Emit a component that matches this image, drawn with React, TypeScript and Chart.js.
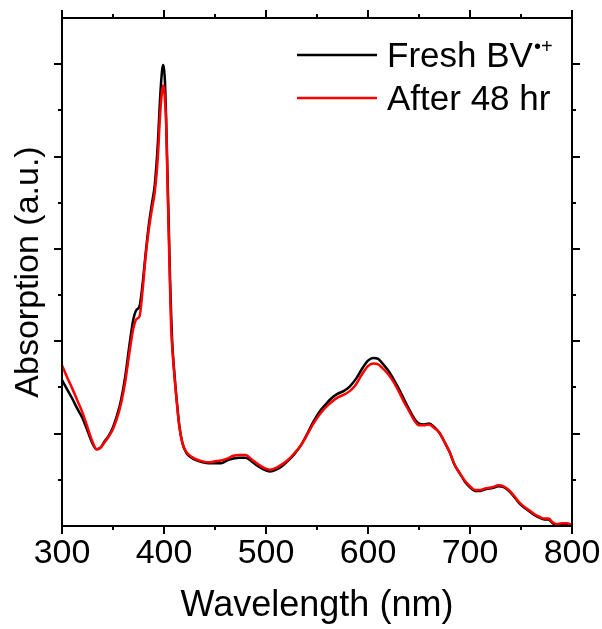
import React, { useEffect, useRef } from "react";
import { Chart, registerables } from "chart.js";

Chart.register(...registerables);

const wavelengths = [
  300, 305, 310, 315, 320, 325, 330, 334, 338, 342, 346, 350, 354, 358, 362, 366, 370, 373, 376, 379,
  382, 385, 388, 391, 394, 396, 398, 399, 400, 401, 402, 403, 404, 405, 406, 407, 408, 410, 412, 415,
  418, 422, 427, 432, 438, 444, 450, 456, 462, 468, 474, 480, 486, 492, 498, 504, 510, 516, 522, 528,
  534, 540, 546, 552, 558, 564, 570, 576, 582, 588, 594, 600, 605, 610, 615, 620, 625, 630, 635, 640,
  645, 650, 655, 660, 665, 670, 675, 680, 685, 690, 695, 700, 705, 710, 716, 722, 728, 733, 738, 743,
  748, 753, 758, 763, 768, 773, 777, 781, 785, 790, 795, 800,
];

const freshBV = [
  1.58, 1.48, 1.38, 1.27, 1.17, 1.03, 0.89, 0.83, 0.85, 0.92, 0.98, 1.07, 1.2, 1.37, 1.62, 1.95, 2.24, 2.34, 2.38, 2.62,
  2.95, 3.25, 3.48, 3.7, 4.15, 4.6, 4.92, 4.99, 4.95, 4.8, 4.45, 4.0, 3.55, 3.1, 2.65, 2.3, 2.0, 1.68, 1.42, 1.09,
  0.9, 0.79, 0.74, 0.71, 0.69, 0.68, 0.68, 0.68, 0.71, 0.73, 0.74, 0.74, 0.7, 0.65, 0.61, 0.59, 0.61, 0.65, 0.71, 0.78,
  0.87, 0.99, 1.12, 1.23, 1.31, 1.38, 1.43, 1.46, 1.51, 1.59, 1.7, 1.79, 1.82, 1.81, 1.75, 1.68, 1.59, 1.49, 1.38, 1.27,
  1.17, 1.11, 1.1, 1.11, 1.07, 1.01, 0.91, 0.8, 0.66, 0.57, 0.48, 0.42, 0.38, 0.38, 0.4, 0.41, 0.43, 0.42, 0.38, 0.32,
  0.25, 0.2, 0.16, 0.12, 0.09, 0.07, 0.07, 0.03, 0.01, 0.01, 0.02, 0.0,
];

const after48hr = [
  1.74, 1.61, 1.49, 1.36, 1.23, 1.07, 0.91, 0.83, 0.85, 0.91, 0.97, 1.05, 1.17, 1.33, 1.56, 1.87, 2.14, 2.24, 2.27, 2.55,
  2.92, 3.2, 3.42, 3.62, 4.0, 4.42, 4.7, 4.77, 4.74, 4.6, 4.4, 3.95, 3.45, 3.0, 2.55, 2.15, 1.95, 1.65, 1.4, 1.08,
  0.9, 0.8, 0.75, 0.72, 0.7, 0.69, 0.7, 0.71, 0.73, 0.76, 0.77, 0.77, 0.72, 0.67, 0.63, 0.61, 0.63, 0.67, 0.72, 0.79,
  0.87, 0.98, 1.1, 1.2, 1.28, 1.34, 1.39, 1.42, 1.46, 1.53, 1.64, 1.73, 1.76, 1.75, 1.7, 1.64, 1.56, 1.46, 1.35, 1.25,
  1.15, 1.09, 1.09, 1.1, 1.06, 1.01, 0.91, 0.8, 0.66, 0.57, 0.49, 0.43, 0.39, 0.39, 0.41, 0.42, 0.44, 0.43, 0.39, 0.33,
  0.26, 0.21, 0.17, 0.13, 0.1, 0.08, 0.08, 0.04, 0.02, 0.03, 0.03, 0.01,
];

const xTicks = [300, 400, 500, 600, 700, 800];
const xMinorTicks = [350, 450, 550, 650, 750];
const yMajorTicks = [1, 2, 3, 4, 5];
const yMinorTicks = [0.5, 1.5, 2.5, 3.5, 4.5];
const seriesNames = ["Fresh BV", "After 48 hr"];
const seriesSuperscript = "\u2022+";
const xTitle = "Wavelength (nm)";
const yTitle = "Absorption (a.u.)";

const FONT = "'Liberation Sans', Arial, sans-serif";

export default function App() {
  const ref = useRef<HTMLCanvasElement>(null);

  useEffect(() => {
    document.body.style.margin = "0";
    const canvas = ref.current;
    if (!canvas) return;

    const framePlugin = {
      id: "frameTicksLegend",
      afterDraw(chart: any) {
        const { ctx, chartArea } = chart;
        const xs = chart.scales.x;
        const ys = chart.scales.y;
        const { left, right, top, bottom } = chartArea;
        ctx.save();
        ctx.strokeStyle = "#000";
        ctx.lineWidth = 2;
        ctx.lineCap = "square";
        ctx.strokeRect(left, top, right - left, bottom - top);
        ctx.lineCap = "butt";
        const major = 8;
        const minor = 4;
        ctx.beginPath();
        const xt = (v: number, len: number) => {
          const px = Math.round(xs.getPixelForValue(v));
          ctx.moveTo(px, bottom);
          ctx.lineTo(px, bottom + len);
          ctx.moveTo(px, top);
          ctx.lineTo(px, top - len);
        };
        const yt = (v: number, len: number) => {
          const py = Math.round(ys.getPixelForValue(v));
          ctx.moveTo(left, py);
          ctx.lineTo(left - len, py);
          ctx.moveTo(right, py);
          ctx.lineTo(right + len, py);
        };
        xTicks.forEach((v) => xt(v, major));
        xMinorTicks.forEach((v) => xt(v, minor));
        yMajorTicks.forEach((v) => yt(v, major));
        yMinorTicks.forEach((v) => yt(v, minor));
        ctx.stroke();

        // legend
        const colors = ["#000000", "#ff0000"];
        const lineX0 = 297;
        const lineX1 = 377;
        const rowsY = [55, 98];
        ctx.lineWidth = 2.5;
        seriesNames.forEach((name, i) => {
          ctx.strokeStyle = colors[i];
          ctx.beginPath();
          ctx.moveTo(lineX0, rowsY[i]);
          ctx.lineTo(lineX1, rowsY[i]);
          ctx.stroke();
          ctx.fillStyle = "#000";
          ctx.font = `35px ${FONT}`;
          ctx.textBaseline = "alphabetic";
          ctx.textAlign = "left";
          ctx.fillText(name, 387, rowsY[i] + 12);
          if (i === 0) {
            const w = ctx.measureText(name).width;
            ctx.font = `20px ${FONT}`;
            ctx.fillText(seriesSuperscript, 387 + w + 1, rowsY[i] - 2);
          }
        });
        ctx.restore();
      },
    };

    const chart = new Chart(canvas, {
      type: "line",
      data: {
        datasets: [
          {
            label: seriesNames[1],
            data: wavelengths.map((x, i) => ({ x, y: after48hr[i] })),
            borderColor: "#ff0000",
            borderWidth: 2.5,
            pointRadius: 0,
            cubicInterpolationMode: "monotone",
            fill: false,
          },
          {
            label: seriesNames[0],
            data: wavelengths.map((x, i) => ({ x, y: freshBV[i] })),
            borderColor: "#000000",
            borderWidth: 2.5,
            pointRadius: 0,
            cubicInterpolationMode: "monotone",
            fill: false,
          },
        ],
      },
      options: {
        responsive: false,
        animation: false,
        layout: { padding: { top: 18, right: 30, left: 0, bottom: 0 } },
        plugins: { legend: { display: false }, tooltip: { enabled: false } },
        scales: {
          x: {
            type: "linear",
            min: 300,
            max: 800,
            afterBuildTicks: (s: any) => {
              s.ticks = xTicks.map((v) => ({ value: v }));
            },
            afterFit: (s: any) => {
              s.height = 103;
              s.paddingLeft = 0;
              s.paddingRight = 0;
            },
            grid: { display: false, drawTicks: false },
            border: { display: false },
            ticks: {
              color: "#000",
              padding: 7,
              maxRotation: 0,
              font: { family: FONT, size: 34 },
            },
            title: {
              display: true,
              text: xTitle,
              color: "#000",
              font: { family: FONT, size: 36 },
              padding: { top: 0, bottom: 1 },
            },
          },
          y: {
            type: "linear",
            min: 0,
            max: 5.5,
            afterFit: (s: any) => {
              s.width = 62;
            },
            grid: { display: false, drawTicks: false },
            border: { display: false },
            ticks: { display: false },
            title: {
              display: true,
              text: yTitle,
              color: "#000",
              font: { family: FONT, size: 34 },
              padding: { top: 8, bottom: 0 },
            },
          },
        },
      },
      plugins: [framePlugin],
    });

    return () => chart.destroy();
  }, []);

  return <canvas ref={ref} width={602} height={629} style={{ display: "block" }} />;
}
